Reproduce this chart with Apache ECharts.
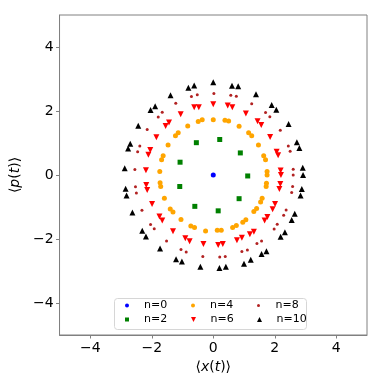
<!DOCTYPE html>
<html><head><meta charset="utf-8">
<script src="https://cdn.jsdelivr.net/npm/echarts@6/dist/echarts.min.js"></script>
<style>html,body{margin:0;padding:0;background:#fff}#c{width:382px;height:382px}</style>
</head><body><div id="c"></div>
<script>
const seriesNames = ['n=0','n=2','n=4','n=6','n=8','n=10'];
const n0 = [[0,0]];
const n2 = [[-0.55,1.01],[0.21,1.11],[0.88,0.69],[1.12,-0.03],[0.84,-0.74],[0.16,-1.12],[-0.60,-0.98],[-1.09,-0.36],[-1.08,0.40]];
const n4 = [[0.00,1.73],[-0.36,1.73],[-0.49,1.67],[-0.83,1.53],[-1.14,1.32],[-1.23,1.23],[-1.47,0.94],[-1.63,0.60],[-1.68,0.48],[-1.74,0.11],[-1.73,-0.24],[-1.71,-0.36],[-1.59,-0.73],[-1.40,-1.06],[-1.31,-1.16],[-1.05,-1.39],[-0.73,-1.59],[-0.61,-1.64],[-0.25,-1.75],[0.13,-1.73],[0.26,-1.73],[0.63,-1.64],[0.75,-1.58],[0.96,-1.48],[1.06,-1.40],[1.32,-1.14],[1.41,-1.05],[1.54,-0.84],[1.59,-0.73],[1.72,-0.36],[1.73,-0.26],[1.75,0.00],[1.75,0.11],[1.70,0.48],[1.64,0.60],[1.47,0.94],[1.25,1.23],[1.15,1.32],[0.84,1.52],[0.50,1.69],[0.38,1.71]];
const n6 = [[0,2.21],[-0.47,2.12],[-0.62,2.12],[-1.06,1.90],[-1.44,1.64],[-1.55,1.53],[-1.85,1.18],[-2.05,0.78],[-2.11,0.63],[-2.19,0.15],[-2.18,-0.31],[-2.15,-0.47],[-1.99,-0.91],[-1.75,-1.30],[-1.66,-1.42],[-1.31,-1.76],[-0.91,-1.98],[-0.77,-2.07],[-0.32,-2.16],[0.16,-2.19],[0.31,-2.16],[0.77,-2.04],[0.93,-1.96],[1.19,-1.85],[1.32,-1.77],[1.67,-1.42],[1.76,-1.31],[1.93,-1.07],[2.01,-0.91],[2.15,-0.44],[2.18,-0.28],[2.20,0.00],[2.19,0.14],[2.11,0.62],[2.06,0.73],[1.85,1.19],[1.56,1.56],[1.44,1.68],[1.06,1.92],[0.62,2.12],[0.47,2.17]];
const n8 = [[0.02,2.55],[-0.52,2.51],[-0.71,2.45],[-1.22,2.24],[-1.66,1.96],[-1.79,1.81],[-2.15,1.42],[-2.39,0.91],[-2.46,0.73],[-2.55,0.17],[-2.53,-0.37],[-2.50,-0.56],[-2.32,-1.10],[-2.04,-1.55],[-1.92,-1.68],[-1.52,-2.06],[-1.05,-2.33],[-0.88,-2.41],[-0.34,-2.55],[0.21,-2.56],[0.39,-2.55],[0.93,-2.39],[1.11,-2.34],[1.42,-2.14],[1.57,-2.06],[1.98,-1.69],[2.08,-1.54],[2.29,-1.26],[2.37,-1.09],[2.55,-0.55],[2.58,-0.36],[2.60,0.00],[2.60,0.18],[2.50,0.74],[2.44,0.91],[2.18,1.40],[1.84,1.82],[1.70,1.95],[1.25,2.23],[0.75,2.46],[0.57,2.49]];
const n10 = [[0,2.90],[-0.62,2.80],[-0.81,2.73],[-1.39,2.49],[-1.89,2.15],[-2.04,2.03],[-2.44,1.54],[-2.70,0.98],[-2.77,0.83],[-2.88,0.21],[-2.85,-0.43],[-2.82,-0.64],[-2.63,-1.17],[-2.31,-1.74],[-2.19,-1.92],[-1.73,-2.30],[-1.21,-2.63],[-1.02,-2.70],[-0.42,-2.87],[0.20,-2.91],[0.41,-2.87],[1.00,-2.77],[1.22,-2.65],[1.57,-2.47],[1.73,-2.38],[2.19,-1.93],[2.33,-1.79],[2.55,-1.41],[2.65,-1.21],[2.84,-0.64],[2.88,-0.44],[2.92,0.00],[2.91,0.23],[2.80,0.84],[2.72,1.02],[2.45,1.59],[2.05,2.04],[1.90,2.19],[1.39,2.52],[0.81,2.77],[0.61,2.79]];
const tickValues = [-4,-2,0,2,4];

const font = 'DejaVu Sans';
const spine = '#808080';
const axisCommon = {
  min: -5, max: 5, interval: 1,
  axisLine: {show: true, onZero: false, lineStyle: {color: spine, width: 1}},
  axisTick: {show: true, inside: false, length: 3.5, lineStyle: {color: spine, width: 1}, customValues: tickValues},
  splitLine: {show: false},
  axisLabel: {color: '#000', fontFamily: font, fontSize: 14, margin: 6, customValues: tickValues,
    formatter: v => String(v).replace('-', '\u2212')},
  nameLocation: 'middle'
};
const nameRich = {
  n: {fontFamily: font, fontSize: 14, color: '#000'},
  i: {fontFamily: font, fontSize: 14, color: '#000', fontStyle: 'italic'}
};
const chart = echarts.init(document.getElementById('c'), null, {renderer: 'canvas'});
const ICON_SQUARE = 'path://M0,0 L10,0 L10,10 L0,10 Z';
const ICON_DOWN = 'path://M0,0 L10,0 L5,10 Z';
const ICON_UP = 'path://M5,0 L10,10 L0,10 Z';
const styles = [
  {data: n0, symbol: 'circle', size: 5, color: '#0000ff', icon: 'circle', lsize: 4},
  {data: n2, symbol: 'rect', size: 5, color: '#008000', icon: ICON_SQUARE, lsize: 4},
  {data: n4, symbol: 'circle', size: 5, color: '#ffa500', icon: 'circle', lsize: 4},
  {data: n6, symbol: 'triangle', size: 6, color: '#ff0000', rotate: 180, icon: ICON_DOWN, lsize: 5},
  {data: n8, symbol: 'circle', size: 3, color: '#b22222', icon: 'circle', lsize: 3},
  {data: n10, symbol: 'triangle', size: 6, color: '#000000', icon: ICON_UP, lsize: 5}
];
// legend grid positions (column-major like the reference)
const legendPos = [[125,300],[125,314],[191,300],[191,314],[257,300],[257,314]];
chart.setOption({
  animation: false,
  grid: {left: 55, right: 15, top: 15, bottom: 47, show: true, borderColor: spine, borderWidth: 1},
  xAxis: Object.assign({}, axisCommon, {type: 'value', name: '{n|\u27E8}{i|x}{n|(}{i|t}{n|)\u27E9}', nameGap: 16,
    nameTextStyle: {rich: nameRich}}),
  yAxis: Object.assign({}, axisCommon, {type: 'value', name: '{n|\u27E8}{i|p}{n|(}{i|t}{n|)\u27E9}', nameGap: 35,
    nameTextStyle: {rich: nameRich}}),
  graphic: [{type: 'rect', shape: {x: 114.5, y: 298.5, width: 192, height: 31, r: 3},
    style: {fill: 'rgba(255,255,255,0.8)', stroke: '#d6d6d6', lineWidth: 1}, z: 3}],
  legend: seriesNames.map((nm, k) => ({
    data: [{name: nm, icon: styles[k].icon, itemStyle: {color: styles[k].color}}],
    left: legendPos[k][0], top: legendPos[k][1], padding: 0,
    itemWidth: 24, itemHeight: styles[k].lsize, itemGap: 0, selectedMode: false,
    symbolKeepAspect: true,
    textStyle: {fontFamily: font, fontSize: 11, color: '#000'}, z: 5
  })),
  series: styles.map((s, k) => ({
    type: 'scatter', name: seriesNames[k], data: s.data, symbol: s.symbol, symbolSize: s.size,
    symbolRotate: s.rotate || 0, itemStyle: {color: s.color, opacity: 1}
  }))
});
</script></body></html>
